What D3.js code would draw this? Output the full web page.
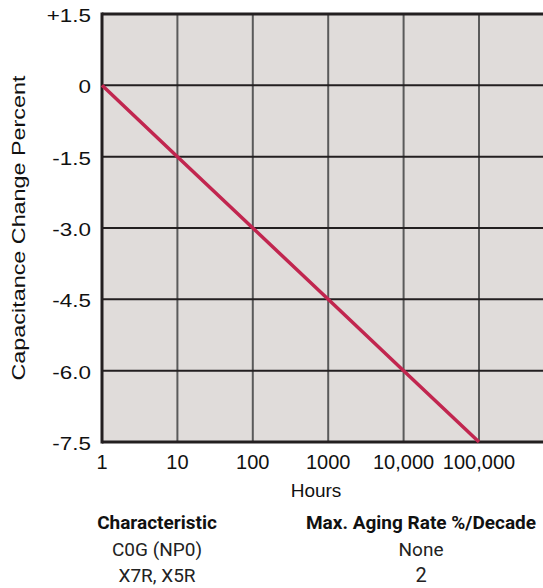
<!DOCTYPE html>
<html>
<head>
<meta charset="utf-8">
<script src="https://cdn.jsdelivr.net/npm/d3@7"></script>
<style>
  html, body { margin: 0; padding: 0; background: #fff; }
  svg { display: block; }
</style>
</head>
<body>
<svg id="chart" width="543" height="588"></svg>
<script>
// ---- data ----
const hours = [1, 10, 100, 1000, 10000, 100000];
const capChange = [0, -1.5, -3.0, -4.5, -6.0, -7.5];
const xTickValues = [1, 10, 100, 1000, 10000, 100000];
const xTickLabels = ["1", "10", "100", "1000", "10,000", "100,000"];
const yTickValues = [1.5, 0, -1.5, -3.0, -4.5, -6.0, -7.5];
const yTickLabels = ["+1.5", "0", "-1.5", "-3.0", "-4.5", "-6.0", "-7.5"];
const tableHeader = ["Characteristic", "Max. Aging Rate %/Decade"];
const tableRows = [["C0G (NP0)", "None"], ["X7R, X5R", "2"]];

// ---- layout ----
const svg = d3.select("#chart");
const x = d3.scaleLog().domain([1, 1e6]).range([102, 102 + 6 * 75.4]);
const y = d3.scaleLinear().domain([1.5, -7.5]).range([14, 442]);

const plotColor = "#e0dcda";
const gridColor = "#5a5a5a";
const axisColor = "#231f20";
const lineColor = "#c1264f";
const sansFont = "'Liberation Sans', Arial, sans-serif";

// plot background
svg.append("rect")
  .attr("x", x(1)).attr("y", y(1.5))
  .attr("width", x(1e6) - x(1)).attr("height", y(-7.5) - y(1.5))
  .attr("fill", plotColor);

// vertical grid
svg.append("g").selectAll("line")
  .data(xTickValues.slice(1))
  .join("line")
  .attr("x1", d => x(d)).attr("x2", d => x(d))
  .attr("y1", y(1.5)).attr("y2", y(-7.5))
  .attr("stroke", gridColor).attr("stroke-width", 2);

// horizontal grid
svg.append("g").selectAll("line")
  .data(yTickValues.slice(1, -1))
  .join("line")
  .attr("x1", x(1)).attr("x2", x(1e6))
  .attr("y1", d => y(d)).attr("y2", d => y(d))
  .attr("stroke", axisColor).attr("stroke-width", 2);

// borders (left, top, bottom)
const border = svg.append("g").attr("stroke", axisColor).attr("stroke-width", 3).attr("fill", "none");
border.append("line").attr("x1", x(1)).attr("x2", x(1)).attr("y1", y(1.5) - 1.5).attr("y2", y(-7.5) + 1.5);
border.append("line").attr("x1", x(1)).attr("x2", x(1e6)).attr("y1", y(1.5)).attr("y2", y(1.5));
border.append("line").attr("x1", x(1)).attr("x2", x(1e6)).attr("y1", y(-7.5)).attr("y2", y(-7.5));

// data line
const line = d3.line().x((d, i) => x(hours[i])).y(d => y(d));
svg.append("path")
  .datum(capChange)
  .attr("d", line)
  .attr("fill", "none")
  .attr("stroke", lineColor)
  .attr("stroke-width", 3.5);

// y tick labels (horizontally stretched as in the reference)
const yLabels = svg.append("g").selectAll("text")
  .data(yTickValues)
  .join("text")
  .attr("x", 91)
  .attr("y", d => y(d) + 8)
  .attr("text-anchor", "end")
  .attr("font-family", sansFont)
  .attr("font-size", 19)
  .attr("fill", "#111")
  .text((d, i) => yTickLabels[i]);
yLabels.each(function() {
  const len = this.getComputedTextLength();
  d3.select(this).attr("textLength", len * 1.18).attr("lengthAdjust", "spacingAndGlyphs");
});

// x tick labels
svg.append("g").selectAll("text")
  .data(xTickValues)
  .join("text")
  .attr("x", d => x(d))
  .attr("y", 469)
  .attr("text-anchor", "middle")
  .attr("font-family", sansFont)
  .attr("font-size", 20)
  .attr("fill", "#111")
  .text((d, i) => xTickLabels[i]);

// axis titles
svg.append("text")
  .attr("x", 316).attr("y", 497)
  .attr("text-anchor", "middle")
  .attr("font-family", sansFont)
  .attr("font-size", 19)
  .attr("fill", "#111")
  .text("Hours");

svg.append("text")
  .attr("transform", "translate(25,228) rotate(-90)")
  .attr("text-anchor", "middle")
  .attr("font-family", sansFont)
  .attr("font-size", 19)
  .attr("textLength", 305)
  .attr("lengthAdjust", "spacingAndGlyphs")
  .attr("fill", "#111")
  .text("Capacitance Change Percent");

// table
const colX = [157, 421];
const table = svg.append("g").attr("font-family", "Roboto, sans-serif").attr("text-anchor", "middle");
table.selectAll("text.h")
  .data(tableHeader)
  .join("text")
  .attr("class", "h")
  .attr("x", (d, i) => colX[i]).attr("y", 529)
  .attr("font-size", 19).attr("font-weight", "bold").attr("fill", "#111")
  .text(d => d);
tableRows.forEach((row, r) => {
  table.append("g").selectAll("text")
    .data(row)
    .join("text")
    .attr("x", (d, i) => colX[i]).attr("y", 556 + r * 26)
    .attr("font-size", (d, i) => (i === 1 && d === "2") ? 20 : 19)
    .attr("fill", "#222")
    .text(d => d);
});
</script>
</body>
</html>
